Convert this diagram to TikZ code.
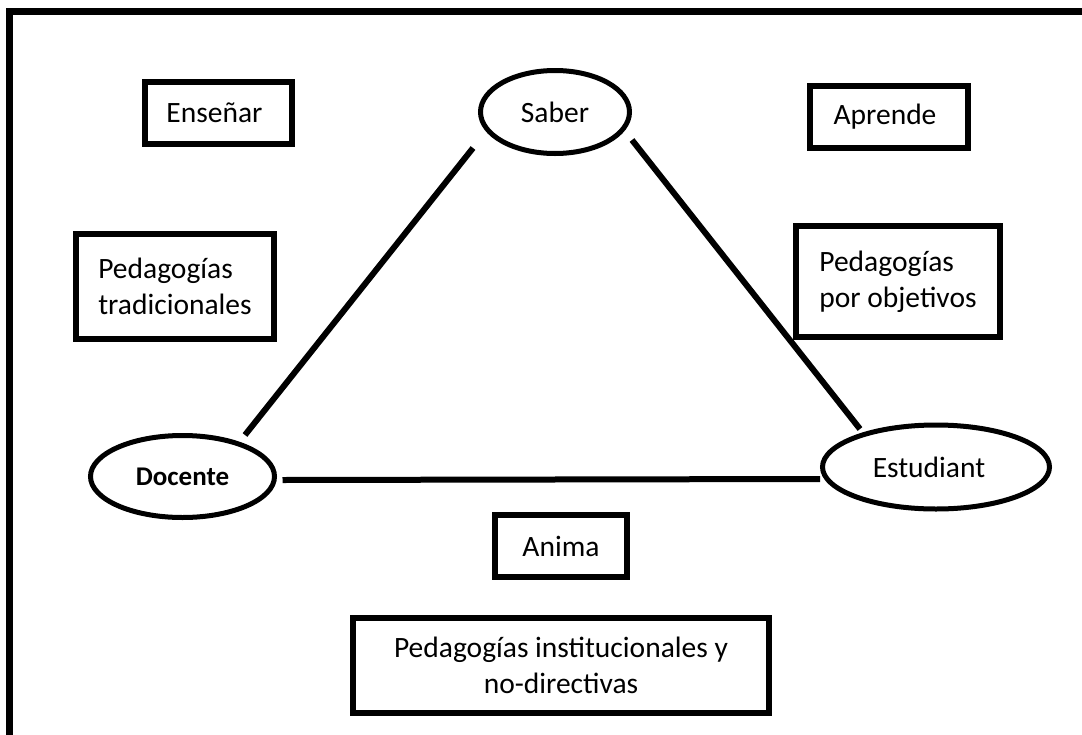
\documentclass[tikz,border=0pt]{standalone}
\usepackage{fontspec}
\setmainfont{Carlito}
\usetikzlibrary{shapes.geometric}
\tikzset{
  box/.style={draw, line width=6pt, rectangle, inner sep=0pt, font=\fontsize{29.5}{36}\selectfont},
  oval/.style={draw, line width=5pt, ellipse, inner sep=0pt, font=\fontsize{29.5}{36}\selectfont},
  conn/.style={line width=6pt},
  frame/.style={line width=7pt}
}
\begin{document}
\begin{tikzpicture}[x=1pt,y=-1pt]
\useasboundingbox (0,0) rectangle (1082,734);
\clip (0,0) rectangle (1082,734);
% frame (top and left edges visible)
\coordinate (ftr) at (1095,11);
\coordinate (ftl) at (9.5,11);
\coordinate (fbl) at (9.5,750);
\draw[frame] (ftr) -- (ftl) -- (fbl);

% boxes
\node[box, minimum width=147pt, minimum height=62pt] (ens) at (218.5,113) {\hspace*{-8pt}Enseñar};
\node[box, minimum width=158pt, minimum height=62pt] (apr) at (889,117) {\hspace*{-8pt}Aprende};
\node[box, minimum width=198pt, minimum height=105pt, align=left] (ptr) at (175,286.5) {Pedagogías\\tradicionales};
\node[box, minimum width=204pt, minimum height=111pt, align=left] (pob) at (898,281.5) {Pedagogías\\por objetivos};
\node[box, minimum width=132pt, minimum height=62pt] (ani) at (561,546) {Anima};
\node[box, minimum width=416pt, minimum height=95pt, align=center] (pin) at (561,665.5) {Pedagogías institucionales y\\no-directivas};

% ellipses
\node[oval, minimum width=149pt, minimum height=83pt] (sab) at (555,112) {Saber};
\node[oval, minimum width=184pt, minimum height=82pt, font=\fontsize{27}{33}\selectfont\bfseries] (doc) at (182.5,476.5) {Docente};
\node[oval, minimum width=227pt, minimum height=84pt] (est) at (936,467) {\hspace*{-14pt}Estudiant};

% connectors
\draw[conn] ([shift={(-82,36)}]sab.center) -- ([shift={(62.5,-41.5)}]doc.center);
\draw[conn] ([shift={(77,28)}]sab.center) -- ([shift={(-76,-38)}]est.center);
\draw[conn] ([shift={(100,3.5)}]doc.center) -- ([shift={(-116,12)}]est.center);
\end{tikzpicture}
\end{document}
